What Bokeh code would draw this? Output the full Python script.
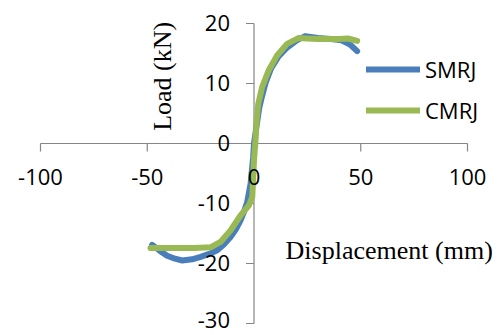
import math
from bokeh.plotting import figure
from bokeh.models import Range1d, Legend, LegendItem, Label
from bokeh.core.properties import value
from bokeh.embed import file_html
from bokeh.resources import INLINE

# ---- data ----
x_ticks = [-100, -50, 0, 50, 100]
x_tick_labels = ["-100", "-50", "0", "50", "100"]
y_ticks = [-30, -20, -10, 0, 10, 20]
y_tick_labels = ["-30", "-20", "-10", "0", "10", "20"]

smrj_x = [-47.7, -44.0, -40.7, -37.0, -33.6, -29.0, -25.0, -21.0, -17.2, -14.0, -11.0, -8.5,
          -6.3, -4.6, -3.2, -1.6, -0.4, 0.0, 1.0, 2.5, 3.5, 5.5, 8.0, 11.5, 15.5, 20.0,
          24.0, 30.0, 36.0, 41.0, 45.0, 48.3]
smrj_y = [-16.9, -17.9, -18.7, -19.2, -19.5, -19.3, -18.9, -18.4, -17.8, -16.8, -15.6, -14.3,
          -12.8, -11.3, -9.8, -6.7, -2.3, 0.0, 2.5, 6.0, 7.5, 10.2, 12.5, 14.5, 16.0, 17.2,
          17.9, 17.6, 17.4, 17.2, 16.5, 15.4]

cmrj_x = [-48.5, -43.0, -37.6, -28.0, -20.4, -15.7, -11.0, -6.3, -2.4, -0.8, 0.0, 0.7,
          1.3, 2.0, 3.8, 6.9, 10.9, 15.5, 21.0, 25.0, 30.4, 35.0, 39.7, 44.0, 48.3]
cmrj_y = [-17.4, -17.4, -17.4, -17.4, -17.3, -16.4, -14.5, -12.0, -10.3, -8.9, -2.8, 0.5,
          4.0, 6.6, 9.4, 12.2, 14.7, 16.6, 17.6, 17.5, 17.4, 17.4, 17.4, 17.5, 17.1]

series_names = ["SMRJ", "CMRJ"]
x_title = "Displacement (mm)"
y_title = "Load (kN)"

# ---- styles ----
BLUE = "#4A7EBB"
GREEN = "#98B954"
AXIS = "#868686"
TICK_FONT = value("Open Sans")
# small upward nudge for the lowest y label so it stays inside the canvas
y_label_nudge = [-3, 0, 0, 0, 0, 0]

# canvas = frame; ranges chosen so that -100..100 / -30..20 sit where the reference draws them
p = figure(width=500, height=335, output_backend="svg", toolbar_location=None,
           x_range=Range1d(-118.735, 115.457), y_range=Range1d(-32.0, 23.833),
           x_axis_location=None, y_axis_location=None, min_border=0,
           tools="")
p.grid.visible = False
p.outline_line_color = None
p.background_fill_color = "white"
p.border_fill_color = "white"

# axes (crossing at the origin)
p.segment(x0=[min(x_ticks)], y0=[0], x1=[max(x_ticks)], y1=[0], line_color=AXIS, line_width=1.2)
p.segment(x0=[0], y0=[min(y_ticks)], x1=[0], y1=[max(y_ticks)], line_color=AXIS, line_width=1.2)
p.ray(x=x_ticks, y=[0] * len(x_ticks), length=8, length_units="screen",
      angle=-math.pi / 2, line_color=AXIS, line_width=1.2)
p.ray(x=[0] * len(y_ticks), y=y_ticks, length=8, length_units="screen",
      angle=math.pi, line_color=AXIS, line_width=1.2)

# series
r1 = p.line(smrj_x, smrj_y, line_color=BLUE, line_width=6, line_join="round", line_cap="round")
r2 = p.line(cmrj_x, cmrj_y, line_color=GREEN, line_width=6, line_join="round", line_cap="round")

# tick labels
p.text(x=x_ticks, y=[0] * len(x_ticks), text=x_tick_labels, y_offset=34,
       text_align="center", text_baseline="middle", text_font=TICK_FONT,
       text_font_size="22px", text_color="black")
p.text(x=[0] * len(y_ticks), y=y_ticks, text=y_tick_labels, x_offset=-24,
       y_offset=y_label_nudge,
       text_align="right", text_baseline="middle", text_font=TICK_FONT,
       text_font_size="22px", text_color="black")

# axis titles
p.add_layout(Label(x=14.8, y=-17.8, text=x_title, text_align="left", text_baseline="middle",
                   text_font="Liberation Serif", text_font_size="26px", text_color="black"))
p.add_layout(Label(x=-42.9, y=11.2, text=y_title, angle=math.pi / 2, text_align="center",
                   text_baseline="middle", text_font="Liberation Serif", text_font_size="26px",
                   text_color="black"))

legend = Legend(items=[LegendItem(label=series_names[0], renderers=[r1]),
                       LegendItem(label=series_names[1], renderers=[r2])],
                location=(366, 210), orientation="vertical",
                glyph_width=54, glyph_height=30, label_height=30, label_standoff=5,
                spacing=11, padding=0, margin=0, border_line_color=None,
                background_fill_alpha=0, label_text_font="Open Sans",
                label_text_font_size="22px", label_text_color="black")
p.add_layout(legend)

open("out.html", "w").write(file_html(p, INLINE))
